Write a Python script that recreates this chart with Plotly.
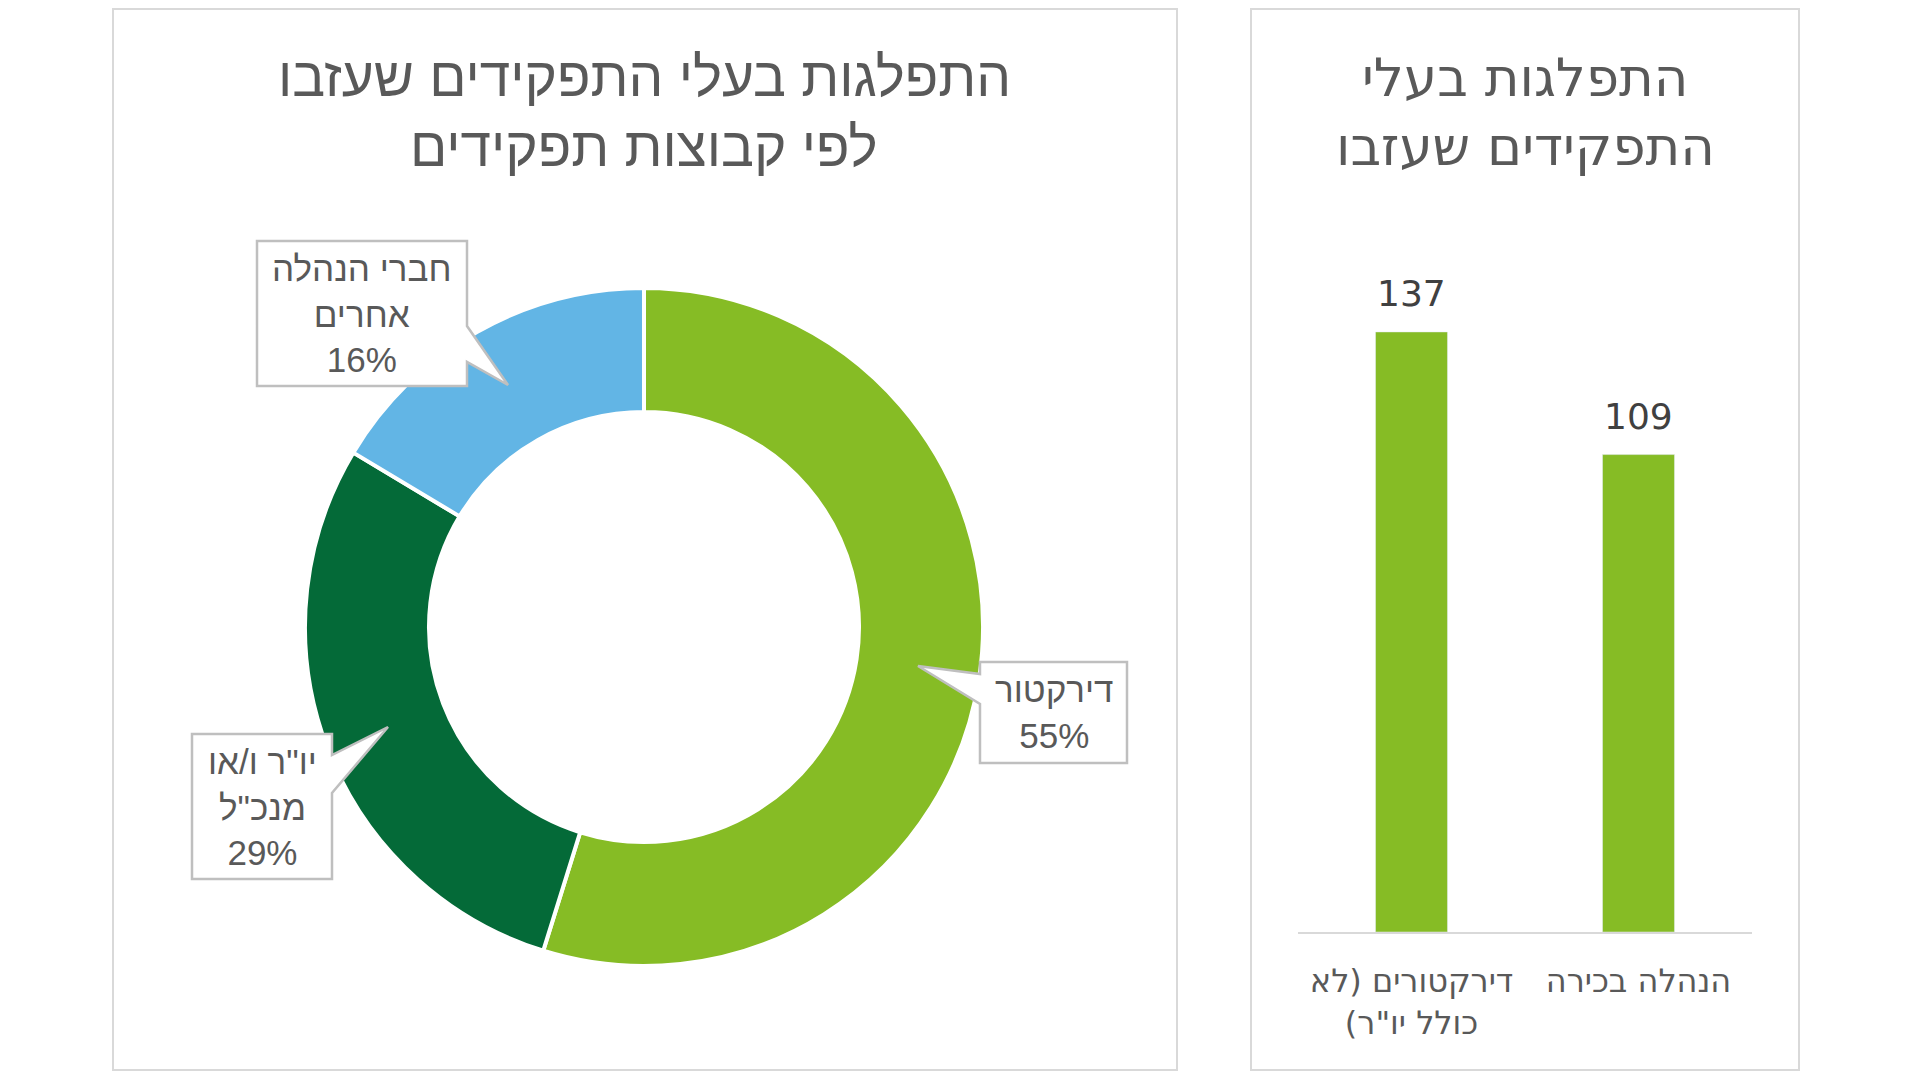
import textwrap
import plotly.graph_objects as go

# page body keeps an 8px margin, so the figure is drawn 8px in from the corner
PAGE_W, PAGE_H, OFF = 1920, 1080, 8
W, H = PAGE_W - 2 * OFF, PAGE_H - 2 * OFF

slice_names = ["דירקטור", 'יו"ר ו/או מנכ"ל', "חברי הנהלה אחרים"]
slice_share = [54.8, 28.8, 16.4]
slice_colors = ["#86BC25", "#046A38", "#62B5E5"]

bar_categories = ['דירקטורים (לא כולל יו"ר)', "הנהלה בכירה"]
bar_values = [137, 109]

left_title = ["התפלגות בעלי התפקידים שעזבו", "לפי קבוצות תפקידים"]
right_title = ["התפלגות בעלי", "התפקידים שעזבו"]

RLM = "\u200f"
GREY_TEXT = "#595959"
BORDER = "#D9D9D9"
CALLOUT = "#BFBFBF"


def px(x):
    return (x - OFF) / W


def py(y):
    return 1 - (y - OFF) / H


def rtl_wrap(text, width):
    return "<br>".join(RLM + line + RLM for line in textwrap.wrap(text, width))


# callout geometry in page pixels: box, side of the pointer, pointer base and tip
callouts = [
    dict(box=(980, 662, 1127, 763), side="left", base=(674, 704), tip=(918, 666)),
    dict(box=(192, 734, 332, 879), side="right", base=(755, 793), tip=(388, 727)),
    dict(box=(257, 241, 467, 386), side="right", base=(326, 362), tip=(508, 385)),
]


def callout_path(c):
    x0, y0, x1, y1 = c["box"]
    ya, yb = c["base"]
    tx, ty = c["tip"]
    if c["side"] == "right":
        pts = [(x0, y0), (x1, y0), (x1, ya), (tx, ty), (x1, yb), (x1, y1), (x0, y1)]
    else:
        pts = [(x0, y0), (x1, y0), (x1, y1), (x0, y1), (x0, yb), (tx, ty), (x0, ya)]
    return "M " + " L ".join(f"{px(x):.5f},{py(y):.5f}" for x, y in pts) + " Z"


fig = go.Figure()

# donut
cx, cy, r_out, r_in = 644, 627, 339, 215
fig.add_trace(go.Pie(
    labels=slice_names, values=slice_share, sort=False, direction="clockwise", rotation=0,
    hole=r_in / r_out, textinfo="none", hoverinfo="label+percent", showlegend=False,
    marker=dict(colors=slice_colors, line=dict(color="white", width=4)),
    domain=dict(x=[px(cx - r_out), px(cx + r_out)], y=[py(cy + r_out), py(cy - r_out)]),
))

# bars
fig.add_trace(go.Bar(
    x=bar_categories, y=bar_values, marker_color="#86BC25", width=0.317,
    showlegend=False, hoverinfo="x+y",
))

axis_bottom, axis_top = 932, 275
fig.update_xaxes(
    domain=[px(1298), px(1752)], showline=True, linecolor=BORDER, linewidth=2,
    showgrid=False, zeroline=False, ticks="", ticklabelstandoff=20,
    tickvals=bar_categories, ticktext=[rtl_wrap(c, 13) for c in bar_categories],
    tickfont=dict(family="DejaVu Sans", size=32, color=GREY_TEXT),
)
fig.update_yaxes(
    domain=[py(axis_bottom), py(axis_top)], range=[0, 150], visible=False,
)

annotations = []
for cat, v in zip(bar_categories, bar_values):
    annotations.append(dict(
        x=cat, y=v, xref="x", yref="y", text=str(v), showarrow=False,
        yanchor="bottom", yshift=16,
        font=dict(family="DejaVu Sans", size=36, color="#404040"),
    ))

# titles
for i, line in enumerate(left_title):
    annotations.append(dict(
        x=px(644), y=py(77 + 70 * i), xref="paper", yref="paper", text=RLM + line + RLM,
        showarrow=False, xanchor="center", yanchor="middle",
        font=dict(family="Liberation Sans", size=55, color=GREY_TEXT),
    ))
for i, line in enumerate(right_title):
    annotations.append(dict(
        x=px(1525), y=py(77 + 70 * i), xref="paper", yref="paper", text=RLM + line + RLM,
        showarrow=False, xanchor="center", yanchor="middle",
        font=dict(family="DejaVu Sans", size=53, color=GREY_TEXT),
    ))

# panel frames and callouts for donut slices
shapes = [
    dict(type="rect", xref="paper", yref="paper", x0=px(113), x1=px(1177), y0=py(1070), y1=py(9),
         line=dict(color=BORDER, width=2), layer="below"),
    dict(type="rect", xref="paper", yref="paper", x0=px(1251), x1=px(1799), y0=py(1070), y1=py(9),
         line=dict(color=BORDER, width=2), layer="below"),
]
for c, name, share in zip(callouts, slice_names, slice_share):
    shapes.append(dict(type="path", xref="paper", yref="paper", path=callout_path(c),
                       fillcolor="white", line=dict(color=CALLOUT, width=2.5), layer="above"))
    x0, y0, x1, y1 = c["box"]
    annotations.append(dict(
        x=px((x0 + x1) / 2), y=py((y0 + y1) / 2), xref="paper", yref="paper",
        text=rtl_wrap(name, 10) + f"<br>{round(share)}%", showarrow=False,
        xanchor="center", yanchor="middle",
        font=dict(family="Liberation Sans", size=35, color=GREY_TEXT),
    ))

fig.update_layout(
    width=W, height=H, margin=dict(l=0, r=0, t=0, b=0),
    paper_bgcolor="white", plot_bgcolor="white",
    shapes=shapes, annotations=annotations,
)

fig.write_html("out.html")
